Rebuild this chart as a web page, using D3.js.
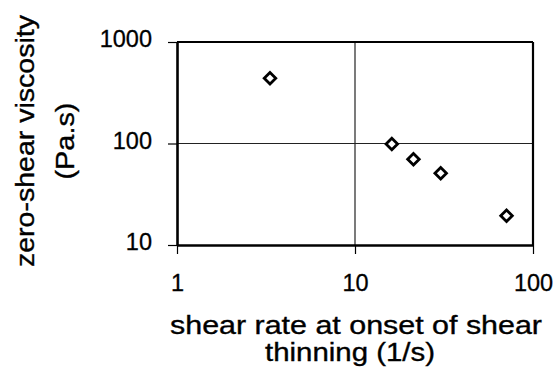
<!DOCTYPE html>
<html>
<head>
<meta charset="utf-8">
<script src="https://cdn.jsdelivr.net/npm/d3@7"></script>
<style>
  html, body { margin: 0; padding: 0; background: #fff; }
  svg { display: block; }
  text { font-family: "Liberation Sans", Arial, sans-serif; fill: #000; }
</style>
</head>
<body>
<svg id="chart" width="558" height="388"></svg>
<script>
// Shear rate at onset of shear thinning (1/s) vs zero-shear viscosity (Pa.s)
const shearRate = [3.33, 16.1, 21.3, 30.3, 71];
const viscosity = [440, 99, 70, 51, 19.4];
const xTicks = [1, 10, 100];
const yTicks = [10, 100, 1000];
const xTitle = ["shear rate at onset of shear", "thinning (1/s)"];
const yTitle = ["zero-shear viscosity", "(Pa.s)"];

const svg = d3.select("#chart");
const plot = { left: 177, right: 533, top: 42, bottom: 245 };

const x = d3.scaleLog().domain([1, 100]).range([plot.left, plot.right]);
const y = d3.scaleLog().domain([10, 1000]).range([plot.bottom, plot.top]);

// gridlines at the inner decades
svg.append("g")
  .selectAll("line")
  .data(xTicks.slice(1, -1))
  .join("line")
  .attr("x1", d => x(d)).attr("x2", d => x(d))
  .attr("y1", plot.top).attr("y2", plot.bottom)
  .attr("stroke", "#222").attr("stroke-width", 1.2);
svg.append("g")
  .selectAll("line")
  .data(yTicks.slice(1, -1))
  .join("line")
  .attr("x1", plot.left).attr("x2", plot.right)
  .attr("y1", d => y(d)).attr("y2", d => y(d))
  .attr("stroke", "#222").attr("stroke-width", 1.2);

// frame: top and right edges
svg.append("line")
  .attr("x1", plot.left).attr("x2", plot.right)
  .attr("y1", plot.top).attr("y2", plot.top)
  .attr("stroke", "#000").attr("stroke-width", 2);
svg.append("line")
  .attr("x1", plot.right).attr("x2", plot.right)
  .attr("y1", plot.top).attr("y2", plot.bottom)
  .attr("stroke", "#000").attr("stroke-width", 2.2);

// axes
const xAxis = d3.axisBottom(x).tickValues(xTicks).tickFormat(d3.format("d"))
  .tickSizeInner(9).tickSizeOuter(0).tickPadding(20);
const yAxis = d3.axisLeft(y).tickValues(yTicks).tickFormat(d3.format("d"))
  .tickSizeInner(9).tickSizeOuter(0).tickPadding(16);

const gx = svg.append("g").attr("transform", `translate(0,${plot.bottom})`).call(xAxis);
const gy = svg.append("g").attr("transform", `translate(${plot.left},0)`).call(yAxis);

[gx, gy].forEach(g => {
  g.select(".domain").attr("stroke", "#000").attr("stroke-width", 2.6);
  g.selectAll(".tick line").attr("stroke", "#000").attr("stroke-width", 1.2);
  g.selectAll(".tick text")
    .attr("font-size", 23.5)
    .attr("font-family", "Liberation Sans, Arial, sans-serif")
    .attr("fill", "#000")
    .attr("stroke", "#000")
    .attr("stroke-width", 0.3);
});
gy.selectAll(".tick text").attr("dy", "0.2em");

// data markers: open diamonds
const diamond = d3.symbol().type(d3.symbolDiamond2).size(85);
svg.append("g")
  .selectAll("path")
  .data(shearRate.map((v, i) => [v, viscosity[i]]))
  .join("path")
  .attr("d", diamond)
  .attr("transform", d => `translate(${x(d[0])},${y(d[1])})`)
  .attr("fill", "#fff")
  .attr("stroke", "#000")
  .attr("stroke-width", 2.8);

// axis titles (set width so the wide lettering fills its line)
const xTitleLen = [372, 170];
const xTitleCx = [356, 350];
svg.append("g")
  .selectAll("text")
  .data(xTitle)
  .join("text")
  .attr("text-anchor", "middle")
  .attr("font-size", 25)
  .attr("stroke", "#000")
  .attr("stroke-width", 0.35)
  .attr("x", (d, i) => xTitleCx[i])
  .attr("y", (d, i) => 334 + i * 27)
  .attr("textLength", (d, i) => xTitleLen[i])
  .attr("lengthAdjust", "spacingAndGlyphs")
  .text(d => d);

const yTitleLen = [252, 77];
svg.append("g")
  .attr("transform", "translate(0,141) rotate(-90)")
  .selectAll("text")
  .data(yTitle)
  .join("text")
  .attr("text-anchor", "middle")
  .attr("font-size", 25)
  .attr("stroke", "#000")
  .attr("stroke-width", 0.35)
  .attr("x", 0)
  .attr("y", (d, i) => 34 + i * 40)
  .attr("textLength", (d, i) => yTitleLen[i])
  .attr("lengthAdjust", "spacingAndGlyphs")
  .text(d => d);
</script>
</body>
</html>
